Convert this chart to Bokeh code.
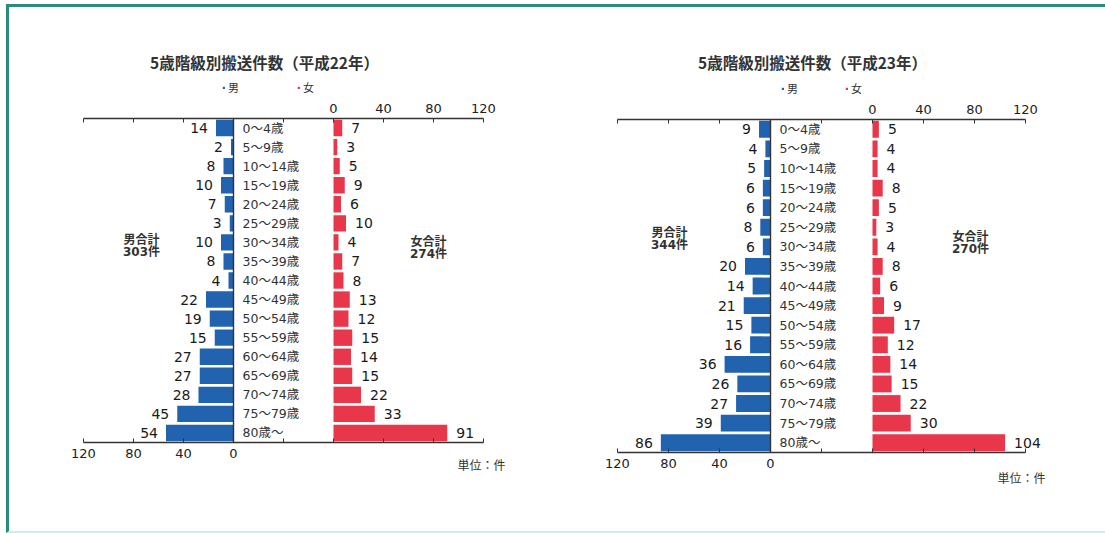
from bokeh.plotting import figure
from bokeh.layouts import row
from bokeh.models import Range1d, LinearAxis, FixedTicker, Label, ColumnDataSource, Legend, LegendItem
from bokeh.core.properties import value
from bokeh.embed import file_html
from bokeh.resources import INLINE

# 5-year age classes (top to bottom)
ages = ["0～4歳", "5～9歳", "10～14歳", "15～19歳", "20～24歳", "25～29歳",
        "30～34歳", "35～39歳", "40～44歳", "45～49歳", "50～54歳", "55～59歳",
        "60～64歳", "65～69歳", "70～74歳", "75～79歳", "80歳～"]

# transports by sex, Heisei 22
male_h22 = [14, 2, 8, 10, 7, 3, 10, 8, 4, 22, 19, 15, 27, 27, 28, 45, 54]
female_h22 = [7, 3, 5, 9, 6, 10, 4, 7, 8, 13, 12, 15, 14, 15, 22, 33, 91]

# transports by sex, Heisei 23
male_h23 = [9, 4, 5, 6, 6, 8, 6, 20, 14, 21, 15, 16, 36, 26, 27, 39, 86]
female_h23 = [5, 4, 4, 8, 5, 3, 4, 8, 6, 9, 17, 12, 14, 15, 22, 30, 104]

axis_ticks = [0, 40, 80, 120]

BLUE = "#2163ae"
RED = "#e8364a"
INK = "#333333"
FONT = "DejaVu Sans, Noto Sans CJK JP"
JFONT = "Noto Sans CJK JP"
GAP = 80          # axis units between the male and female zero lines
AXMAX = 120

PAGE_X0, PAGE_Y0 = 9, 7   # top-left of the first figure inside the framed row
FIG_H = 524


class Frame:
    """Maps page pixel positions of the chart furniture onto data coordinates."""

    def __init__(self, x0, w, ax_left, ax_right, ax_top, ax_bottom):
        n = len(ages)
        self.x0, self.w = x0, w
        self.sx = (ax_right - ax_left) / (2 * AXMAX + GAP)
        self.sy = (ax_bottom - ax_top) / n
        self.xs = -AXMAX - (ax_left - x0) / self.sx
        self.xe = self.xs + w / self.sx
        self.yt = -0.5 - (ax_top - PAGE_Y0) / self.sy
        self.yb = self.yt + FIG_H / self.sy

    def x(self, px):
        return self.xs + (px - self.x0) / self.sx

    def y(self, py):
        return self.yt + (py - PAGE_Y0) / self.sy


def label(p, x, y, text, size, align="center", bold=False, color=INK, font=FONT):
    p.add_layout(Label(x=x, y=y, text=text, text_font=font, text_font_size=size,
                       text_align=align, text_baseline="middle", text_color=color,
                       text_font_style="bold" if bold else "normal"))


def build(title, male, female, fr, pos):
    n = len(ages)
    p = figure(width=fr.w, height=FIG_H, output_backend="svg", toolbar_location=None,
               x_range=Range1d(fr.xs, fr.xe), y_range=Range1d(fr.yb, fr.yt),
               min_border=0, x_axis_location="below", y_axis_location=None)
    p.outline_line_color = None
    p.grid.visible = False
    p.background_fill_color = None
    p.border_fill_color = None

    src = ColumnDataSource(dict(
        row=list(range(n)),
        age=ages,
        m_end=[-v for v in male],
        f_end=[GAP + v for v in female],
        m_txt=[str(v) for v in male],
        f_txt=[str(v) for v in female],
    ))

    rm = p.hbar(y="row", left="m_end", right=0, height=0.86, source=src,
                fill_color=BLUE, line_color=None)
    rf = p.hbar(y="row", left=GAP, right="f_end", height=0.86, source=src,
                fill_color=RED, line_color=None)

    p.text(x="m_end", y="row", text="m_txt", source=src, x_offset=-8,
           text_align="right", text_baseline="middle", text_font=value(FONT),
           text_font_size="14px", text_color="#1a1a1a")
    p.text(x="f_end", y="row", text="f_txt", source=src, x_offset=9,
           text_align="left", text_baseline="middle", text_font=value(FONT),
           text_font_size="14px", text_color="#1a1a1a")
    p.text(x=0, y="row", text="age", source=src, x_offset=9,
           text_align="left", text_baseline="middle", text_font=value(FONT),
           text_font_size="12.5px", text_color=INK)

    # male zero line between the two axes
    p.segment(x0=0, y0=-0.5, x1=0, y1=n - 0.5, line_color=INK, line_width=1.4)

    all_ticks = [-t for t in reversed(axis_ticks)] + [GAP - 40] + [GAP + t for t in axis_ticks]
    male_lbl = {float(-t): str(t) for t in axis_ticks}
    female_lbl = {float(GAP + t): str(t) for t in axis_ticks}

    bottom_ax = p.xaxis[0]
    bottom_ax.fixed_location = n - 0.5
    top_ax = LinearAxis(fixed_location=-0.5)
    p.add_layout(top_ax, "above")
    for ax, lbls in ((bottom_ax, male_lbl), (top_ax, female_lbl)):
        ax.bounds = (-AXMAX, AXMAX + GAP)
        ax.ticker = FixedTicker(ticks=all_ticks)
        ax.major_label_overrides = {float(t): lbls.get(float(t), "") for t in all_ticks}
        ax.major_tick_in = 4
        ax.major_tick_out = 0
        ax.minor_tick_line_color = None
        ax.axis_line_color = INK
        ax.axis_line_width = 1.3
        ax.major_tick_line_color = INK
        ax.major_label_text_font = FONT
        ax.major_label_text_font_size = "13px"
        ax.major_label_text_color = "#222222"
        ax.major_label_standoff = 6

    # title
    tx, ty = pos["title"]
    label(p, fr.x(tx), fr.y(ty), title, "15.5px", bold=True, font=JFONT)

    # legend
    lx, ly = pos["legend"]
    legend = Legend(items=[LegendItem(label="男", renderers=[rm]),
                           LegendItem(label="女", renderers=[rf])],
                    location=(lx - fr.x0, FIG_H - (ly - PAGE_Y0) - 10),
                    orientation="horizontal", glyph_width=3, glyph_height=3,
                    label_standoff=3, label_width=12, spacing=pos["legend_gap"],
                    padding=0, margin=0, label_height=20,
                    label_text_font=JFONT, label_text_font_size="11px",
                    label_text_color=INK, border_line_color=None,
                    background_fill_alpha=0)
    p.add_layout(legend)

    # totals
    mx, my1, my2 = pos["male_total"]
    label(p, fr.x(mx), fr.y(my1), "男合計", "12px", bold=True, font=JFONT)
    label(p, fr.x(mx), fr.y(my2), f"{sum(male)}件", "12px", bold=True)
    fx, fy1, fy2 = pos["female_total"]
    label(p, fr.x(fx), fr.y(fy1), "女合計", "12px", bold=True, font=JFONT)
    label(p, fr.x(fx), fr.y(fy2), f"{sum(female)}件", "12px", bold=True)

    # unit
    ux, uy = pos["unit"]
    label(p, fr.x(ux), fr.y(uy), "単位：件", "12px", align="right", font=JFONT)
    return p


fr1 = Frame(PAGE_X0, 543, 83, 483, 118, 442)
fr2 = Frame(552, 553, 617, 1025, 119, 452)

p1 = build("5歳階級別搬送件数（平成22年）", male_h22, female_h22, fr1,
           dict(title=(264, 61), legend=(222, 87), legend_gap=57,
                male_total=(141, 238, 251), female_total=(428, 240, 253),
                unit=(505, 464)))

p2 = build("5歳階級別搬送件数（平成23年）", male_h23, female_h23, fr2,
           dict(title=(812, 61), legend=(781, 88), legend_gap=46,
                male_total=(669, 231, 244), female_total=(970, 235, 248),
                unit=(1045, 477)))

layout = row(p1, p2, styles={
    "border-top": "3px solid #2a8c78",
    "border-left": "3px solid #2a8c78",
    "border-bottom": "2px solid #cdeeee",
    "margin-left": "6px",
    "margin-top": "4px",
    "background": "#ffffff",
})

open("out.html", "w").write(file_html(layout, INLINE))
